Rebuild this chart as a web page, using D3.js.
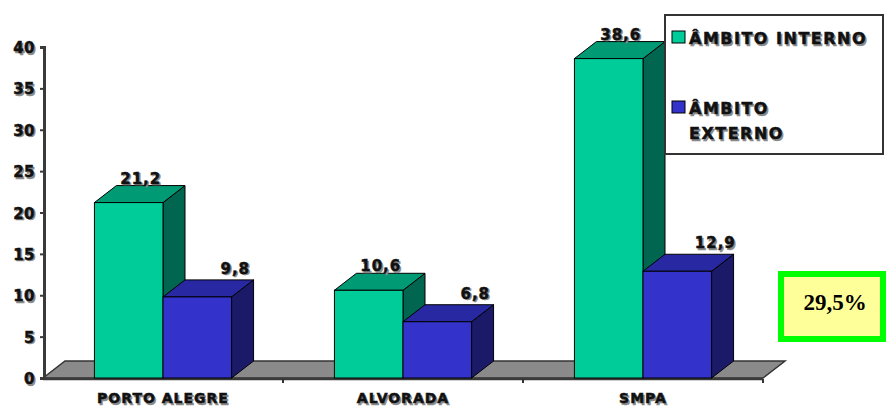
<!DOCTYPE html>
<html>
<head>
<meta charset="utf-8">
<script src="https://cdn.jsdelivr.net/npm/d3@7"></script>
<style>
  body { margin: 0; background: #fff; }
  svg { display: block; }
</style>
</head>
<body>
<div id="chart"></div>
<script>
// data
var categories = ["PORTO ALEGRE", "ALVORADA", "SMPA"];
var seriesNames = ["ÂMBITO INTERNO", "ÂMBITO EXTERNO"];
var interno = [21.2, 10.6, 38.6];
var externo = [9.8, 6.8, 12.9];
var yTicks = [0, 5, 10, 15, 20, 25, 30, 35, 40];
var highlightText = "29,5%";

var svgWidth = 888;
var svgHeight = 407;

// 3d depth offset
var dx = 22;
var dy = -17;

var colors = {
    "ÂMBITO INTERNO": { front: "#00cc99", top: "#009a74", side: "#006650" },
    "ÂMBITO EXTERNO": { front: "#3333cc", top: "#2828a2", side: "#1a1a68" }
};

// label nudges per series (as placed in the original)
var labelShift = {
    "ÂMBITO INTERNO": { x: 1, y: -19 },
    "ÂMBITO EXTERNO": { x: 27, y: -23 }
};

var svg = d3.select("#chart").append("svg")
    .attr("width", svgWidth)
    .attr("height", svgHeight);

var xScale = d3.scaleBand()
    .domain(categories)
    .range([43, 763])
    .padding(0);

var xSub = d3.scaleBand()
    .domain(seriesNames)
    .range([0, xScale.bandwidth()])
    .paddingInner(0)
    .paddingOuter(0.75);

var yScale = d3.scaleLinear()
    .domain([0, 40])
    .range([378, 47]);

var fmt = function (v) { return d3.format(".1f")(v).replace(".", ","); };

// heavy text with a grey drop shadow
function shadowText(g, x, y, str, opts) {
    var sh = g.append("text")
        .attr("x", x + 1.5)
        .attr("y", y + 1.5)
        .attr("fill", "#8a8a8a")
        .attr("stroke", "#8a8a8a")
        .text(str);
    var tx = g.append("text")
        .attr("x", x)
        .attr("y", y)
        .attr("fill", "#111")
        .attr("stroke", "#111")
        .text(str);
    [sh, tx].forEach(function (t) {
        t.attr("font-family", "DejaVu Sans")
            .attr("font-weight", "bold")
            .attr("font-size", opts.size)
            .attr("stroke-width", 0.5)
            .attr("letter-spacing", opts.spacing || 0)
            .attr("text-anchor", opts.anchor || "start");
    });
}

// floor
var y0 = yScale(0);
var fx0 = xScale.range()[0];
var fx1 = xScale.range()[1];
svg.append("polygon")
    .attr("points", [[fx0, y0], [fx0 + dx, y0 + dy], [fx1 + dx, y0 + dy], [fx1, y0]].join(" "))
    .attr("fill", "#8a8a8a")
    .attr("stroke", "#333")
    .attr("stroke-width", 1.5);
svg.append("line")
    .attr("x1", fx0).attr("x2", fx1)
    .attr("y1", y0 + 1).attr("y2", y0 + 1)
    .attr("stroke", "#3a3a3a")
    .attr("stroke-width", 2.5);

// category ticks under the floor
svg.selectAll(".catTick")
    .data(categories.slice(1).map(function (c) { return xScale(c); }).concat([fx1]))
    .enter()
    .append("line")
    .attr("x1", function (d) { return d; })
    .attr("x2", function (d) { return d; })
    .attr("y1", y0 + 1)
    .attr("y2", y0 + 5)
    .attr("stroke", "#333")
    .attr("stroke-width", 2);

// y axis
var leftAxis = d3.axisLeft(yScale)
    .tickValues(yTicks)
    .tickSize(4)
    .tickFormat("");

var yAxis = svg.append("g")
    .attr("transform", "translate(44, 0)")
    .call(leftAxis);
yAxis.select(".domain")
    .attr("stroke", "#3a3a3a")
    .attr("stroke-width", 3);
yAxis.selectAll(".tick line")
    .attr("stroke", "#3a3a3a")
    .attr("stroke-width", 2);

var yLabels = svg.append("g");
yTicks.forEach(function (t) {
    shadowText(yLabels, 35, yScale(t) + 6, t, { size: 15, anchor: "end", spacing: 0.5 });
});

// bars
var barData = [];
categories.forEach(function (c, i) {
    barData.push({ cat: c, s: seriesNames[0], v: interno[i] });
    barData.push({ cat: c, s: seriesNames[1], v: externo[i] });
});

var bars = svg.append("g");
barData.forEach(function (d) {
    var x0 = xScale(d.cat) + xSub(d.s);
    var w = xSub.bandwidth();
    var top = yScale(d.v);
    var col = colors[d.s];
    var g = bars.append("g");

    g.append("polygon")
        .attr("points", [[x0 + w, top], [x0 + w + dx, top + dy], [x0 + w + dx, y0 + dy], [x0 + w, y0]].join(" "))
        .attr("fill", col.side)
        .attr("stroke", "#000")
        .attr("stroke-width", 1);
    g.append("polygon")
        .attr("points", [[x0, top], [x0 + dx, top + dy], [x0 + w + dx, top + dy], [x0 + w, top]].join(" "))
        .attr("fill", col.top)
        .attr("stroke", "#000")
        .attr("stroke-width", 1);
    g.append("rect")
        .attr("x", x0)
        .attr("y", top)
        .attr("width", w)
        .attr("height", y0 - top)
        .attr("fill", col.front)
        .attr("stroke", "#000")
        .attr("stroke-width", 1);
});

// value labels
var valueLabels = svg.append("g");
barData.forEach(function (d) {
    var x0 = xScale(d.cat) + xSub(d.s);
    var cx = x0 + xSub.bandwidth() / 2 + dx / 2 + labelShift[d.s].x;
    shadowText(valueLabels, cx, yScale(d.v) + labelShift[d.s].y, fmt(d.v),
        { size: 15, anchor: "middle", spacing: 1 });
});

// category labels
var catLabels = svg.append("g");
categories.forEach(function (c) {
    shadowText(catLabels, xScale(c) + xScale.bandwidth() / 2, 403, c,
        { size: 14, anchor: "middle", spacing: 1 });
});

// legend
var legend = svg.append("g");
legend.append("rect")
    .attr("x", 665)
    .attr("y", 15)
    .attr("width", 218)
    .attr("height", 139)
    .attr("fill", "#fff")
    .attr("stroke", "#333")
    .attr("stroke-width", 2);

var legendRows = [
    { s: seriesNames[0], y: 31, lines: ["ÂMBITO INTERNO"] },
    { s: seriesNames[1], y: 101, lines: ["ÂMBITO", "EXTERNO"] }
];
legendRows.forEach(function (r) {
    legend.append("rect")
        .attr("x", 672)
        .attr("y", r.y)
        .attr("width", 13)
        .attr("height", 12)
        .attr("fill", colors[r.s].front)
        .attr("stroke", "#000")
        .attr("stroke-width", 1);
    r.lines.forEach(function (ln, k) {
        shadowText(legend, 689, r.y + 13 + k * 25, ln, { size: 16, spacing: 1.5 });
    });
});

// highlight box
var box = svg.append("g");
box.append("rect")
    .attr("x", 781)
    .attr("y", 274)
    .attr("width", 102)
    .attr("height", 65)
    .attr("fill", "#ffff99")
    .attr("stroke", "#00ff00")
    .attr("stroke-width", 6);
box.append("text")
    .attr("x", 835)
    .attr("y", 310)
    .attr("text-anchor", "middle")
    .attr("font-family", "Liberation Serif")
    .attr("font-weight", "bold")
    .attr("font-size", 23)
    .attr("fill", "#000")
    .text(highlightText);
</script>
</body>
</html>
